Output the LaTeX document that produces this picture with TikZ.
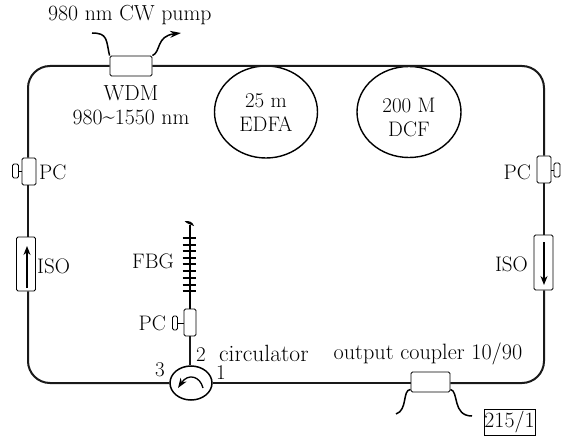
\documentclass[tikz,border=0pt]{standalone}
\usetikzlibrary{shapes.geometric,arrows.meta}
\tikzset{
  x=1pt,y=-1pt,
  fiber/.style={line width=2pt,black!90},
  thinfiber/.style={line width=1.2pt,black!90},
  dev/.style={draw,line width=0.9pt,fill=white,rounded corners=1.5pt,inner sep=0pt,minimum width=#1},
  dev/.default=14pt,
  coil/.style={draw,ellipse,line width=1.4pt,inner sep=0pt,align=center},
  lbl/.style={inner sep=0pt,align=center,font=\fontsize{21}{24}\selectfont},
  lblbig/.style={inner sep=0pt,align=center,font=\fontsize{21.8}{24}\selectfont},
  inarrow/.style={line width=1.4pt,-{Stealth[length=9pt,width=7pt]}}
}
\begin{document}
\begin{tikzpicture}
\useasboundingbox (0,0) rectangle (568,436);
\fill[white] (0,0) rectangle (568,436);
% corners and free ends
\coordinate (tl) at (28,66);
\coordinate (tr) at (544,66);
\coordinate (bl) at (28,383);
\coordinate (br) at (544,383);
\coordinate (pumpin) at (92,33);
\coordinate (pumpout) at (181,33);
\coordinate (outa) at (396,414);
\coordinate (outb) at (472,416);
\coordinate (fbgtop) at (190,225);
% devices
\node[dev=42pt,minimum height=20pt] (wdm) at (131,66) {};
\node[coil,minimum width=103pt,minimum height=92pt] (edfa) at (266,112) {};
\node[coil,minimum width=104pt,minimum height=91pt] (dcf) at (409,112) {};
\node[dev=14pt,minimum height=27pt] (pcl) at (29,171.5) {};
\node[dev=6pt,minimum height=14pt] (knobl) at (15.5,171) {};
\node[dev=14pt,minimum height=27pt] (pcr) at (544,169.5) {};
\node[dev=6pt,minimum height=14pt] (knobr) at (557,170) {};
\node[dev=19pt,minimum height=54pt] (isol) at (26,264) {};
\node[dev=19pt,minimum height=55pt] (isor) at (543.5,262.5) {};
\node[dev=12pt,minimum height=27pt] (pcm) at (190,322.5) {};
\node[dev=5pt,minimum height=14pt] (knobm) at (175,323) {};
\node[dev=39pt,minimum height=20pt] (coup) at (430.5,382) {};
\node[ellipse,draw,line width=1.5pt,fill=white,minimum width=42pt,minimum height=34pt,inner sep=0pt] (circ) at (191,383) {};
% loop
\draw[fiber,rounded corners=22pt] (wdm.east) -- (tr) -- (tr |- pcr.north);
\draw[fiber,rounded corners=22pt] (wdm.west) -- (tl) -- (tl |- pcl.north);
\draw[fiber] (tl |- pcl.south) -- (tl |- isol.north);
\draw[fiber] (tr |- pcr.south) -- (tr |- isor.north);
\draw[fiber,rounded corners=22pt] (tl |- isol.south) -- (bl) -- (circ.west);
\draw[fiber] (circ.east) -- (coup.west |- circ.east);
\draw[fiber,rounded corners=22pt] (coup.east |- br) -- (br) -- (tr |- isor.south);
% knob stems
\draw[line width=1pt] (knobl.east) -- (pcl.west |- knobl.east);
\draw[line width=1pt] (knobr.west) -- (pcr.east |- knobr.west);
\draw[line width=1pt] (knobm.east) -- (pcm.west |- knobm.east);
% pump tails
\draw[line width=1.5pt] (wdm.north west) .. controls (106,40) and (108,33) .. (pumpin);
\draw[line width=1.5pt,-{Stealth[length=11pt,width=7pt]}] (wdm.north east) .. controls (161,52) and (156,36) .. (pumpout);
% output tails
\draw[line width=1.5pt] (coup.south west) ++(0,3pt) .. controls (402,390) and (408,410) .. (outa);
\draw[line width=1.5pt] (coup.south east) ++(0,3pt) .. controls (459,391) and (452,416) .. (outb);
% FBG branch
\draw[thinfiber] (pcm.south) -- (pcm.south |- circ.north);
\draw[line width=1.6pt] (pcm.north) -- (fbgtop);
\fill (184.5,221) .. controls (189,220.5) and (193,222) .. (194,226) .. controls (191,224.5) and (187,224) .. (184.5,221) -- cycle;
\foreach \y in {238,244.5,251,257.5,264,271,278,284.5,291}
  \draw[line width=2pt] (182.5,\y) -- (196,\y);
% isolator arrows
\draw[inarrow] (27,288) -- (27,246);
\draw[inarrow] (544,242) -- (544,285);
% circulator arrow
\draw[line width=1.3pt,-{Stealth[length=10pt,width=7pt]}] (203,388) .. controls (200,376) and (188,373) .. (178,388);
% labels
\node[lblbig,anchor=west] (tpump) at (48,15) {980 nm CW pump};
\node[lblbig] (twdm) at (131,105) {WDM\\980\raisebox{1pt}{\textasciitilde}1550 nm};
\node[lbl] at (266,113) {25 m\\EDFA};
\node[lbl] at (409,117) {200 M\\DCF};
\node[lbl,anchor=west] at (39,172) {PC};
\node[lbl,anchor=east] at (531,172) {PC};
\node[lbl,anchor=west] at (37,266) {ISO};
\node[lbl,anchor=east] at (528,264) {ISO};
\node[lbl,anchor=east] at (174,261) {FBG};
\node[lbl,anchor=east] at (166,323) {PC};
\node[lbl] at (201,355) {2};
\node[lbl] at (160,370) {3};
\node[lbl] at (221,373) {1};
\node[lbl,anchor=west,font=\fontsize{23.5}{24}\selectfont] at (219,353) {circulator};
\node[lbl,anchor=west,font=\fontsize{22.2}{24}\selectfont] at (333.5,354) {output coupler 10/90};
\node[draw,line width=0.9pt,inner sep=0pt,minimum width=51pt,minimum height=26pt,font=\fontsize{21.8}{24}\selectfont] (sig) at (509.5,422) {215/1};
\end{tikzpicture}
\end{document}
